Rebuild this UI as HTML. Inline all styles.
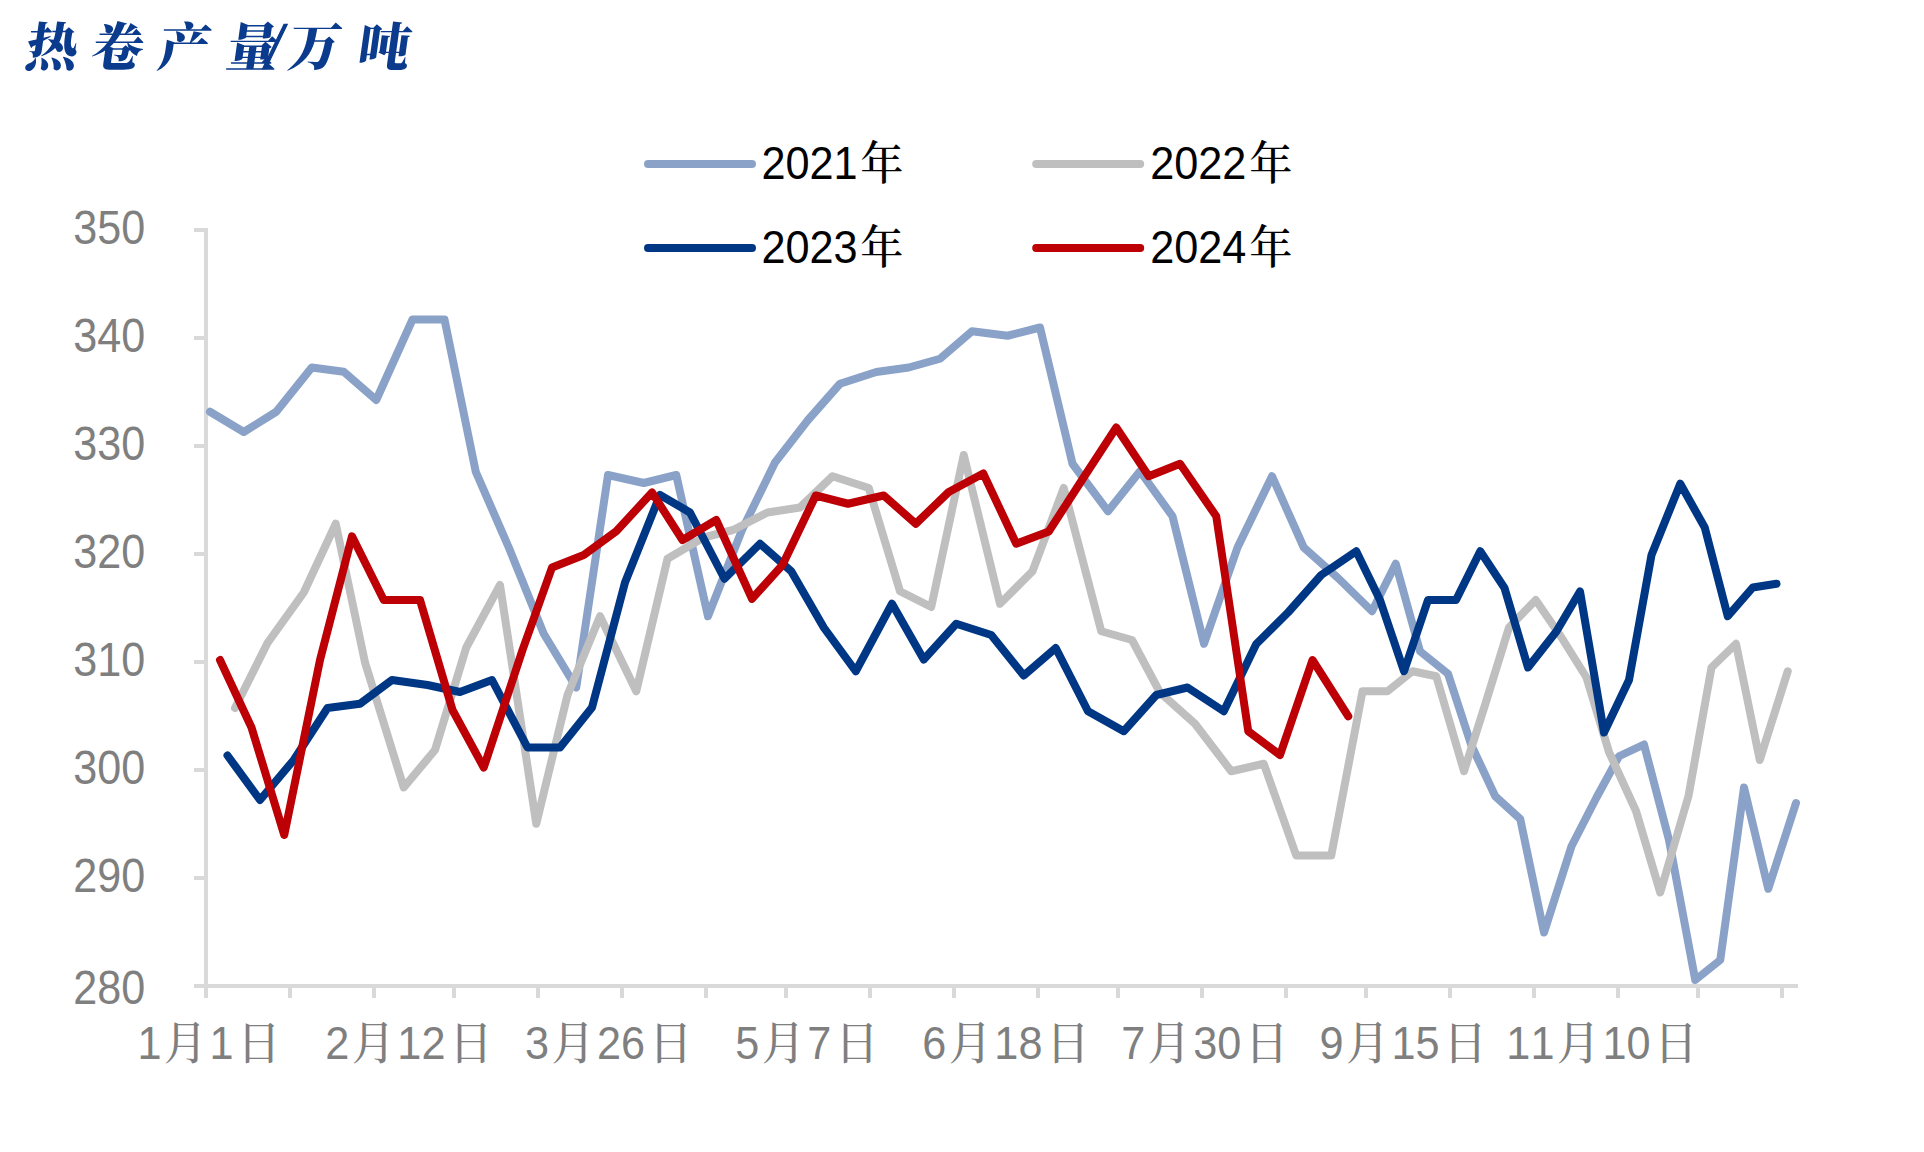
<!DOCTYPE html>
<html lang="zh"><head><meta charset="utf-8"><title>热卷产量/万吨</title>
<style>
html,body{margin:0;padding:0;background:#fff;}
body{width:1924px;height:1152px;overflow:hidden;position:relative;}
svg{position:absolute;left:0;top:0;display:block;}
.yl{font-family:"Liberation Sans",sans-serif;font-size:49px;fill:#7f7f7f;text-anchor:end;}
.xl{font-weight:500;font-family:"Liberation Sans","Noto Serif CJK SC",sans-serif;font-size:46.0px;fill:#7f7f7f;}
.lg{font-weight:500;font-family:"Liberation Sans","Noto Serif CJK SC",sans-serif;font-size:46.0px;fill:#000;}
.ti{font-family:"Liberation Serif","Noto Serif CJK SC",serif;font-weight:900;font-size:52px;fill:#0b3b8c;}
.sl{font-size:66px;font-weight:400;stroke:#0b3b8c;stroke-width:1.3px;}
.ln{fill:none;stroke-width:8;stroke-linejoin:round;stroke-linecap:round;}
</style></head><body>
<svg width="1924" height="1152" viewBox="0 0 1924 1152">
<rect width="1924" height="1152" fill="#fff"/>
<text class="ti" transform="translate(0,66) skewX(-8)" x="23.5 89.5 156.5 224.5 263 286.5 356" y="0 0 0 0 2 0 0">热卷产量<tspan class="sl">/</tspan>万吨</text>
<g stroke="#d9d9d9" stroke-width="4" fill="none">
<path d="M206,228V998"/>
<path d="M194,986H1798"/>
<path d="M194,230H206M194,338H206M194,446H206M194,554H206M194,662H206M194,770H206M194,878H206"/>
<path d="M290,986V998M374,986V998M454,986V998M538,986V998M622,986V998M706,986V998M786,986V998M870,986V998M954,986V998M1038,986V998M1118,986V998M1202,986V998M1286,986V998M1366,986V998M1450,986V998M1534,986V998M1618,986V998M1698,986V998M1782,986V998"/>
</g>
<text class="yl" transform="scale(0.88,1)" x="165.1" y="244">350</text>
<text class="yl" transform="scale(0.88,1)" x="165.1" y="352">340</text>
<text class="yl" transform="scale(0.88,1)" x="165.1" y="460">330</text>
<text class="yl" transform="scale(0.88,1)" x="165.1" y="568">320</text>
<text class="yl" transform="scale(0.88,1)" x="165.1" y="676">310</text>
<text class="yl" transform="scale(0.88,1)" x="165.1" y="784">300</text>
<text class="yl" transform="scale(0.88,1)" x="165.1" y="892">290</text>
<text class="yl" transform="scale(0.88,1)" x="165.1" y="1003.8">280</text>
<polyline class="ln" stroke="#8aa2c8" points="210,411.75 243.75,432 276.25,411.75 311.75,367.5 343.75,371.75 376.25,400 412.5,319.5 444.5,319.5 475.75,471.75 509,548 543.75,633.75 576.25,687.5 608,475 643.75,483 676.25,475 708,616.25 742,530 775,462.5 808,420 840,383.75 876.25,372 908.75,367.5 940,358.75 972,331.25 1007.5,335.75 1040,327.5 1072.5,463.75 1108,511.25 1140,471.25 1172.5,516.25 1204,643.75 1237.5,547.5 1272,476.25 1303.75,547.5 1338,578 1372,611.25 1395.75,563.75 1420,651.25 1448,673.75 1471.25,745 1495.25,796.25 1520.25,819 1544,932.5 1571.5,846.25 1596.5,797.5 1619,756.25 1644,744.5 1669,840 1695.25,980 1720.25,960 1744,787.5 1768.25,888.75 1796,803"/>
<polyline class="ln" stroke="#bfbfbf" points="235,708 267.5,643 303.75,592.5 335.75,523.75 365,662.5 403.75,787.5 435,750 466.25,647.5 500,585 536.25,823.75 567.5,695 600,616.25 636.25,691.25 667.5,558.75 703.5,537.5 733,530 767.5,512.5 800,507.5 832.5,476.25 868.75,488 900,591.25 931.25,607 963.75,455 1000,603.75 1032.5,571.25 1063.75,488 1101.25,631.25 1132,640 1160,692.5 1195,723.75 1231.25,771.25 1263.75,763.75 1296.25,855.5 1331.25,855.5 1362.5,691.25 1387.5,691.25 1412.5,671.25 1436.25,676.25 1464,771.25 1485,705 1509,627.5 1535.75,600 1561.5,637.5 1586.5,677.5 1609,752 1636,811 1660.25,892.5 1688.5,796 1711.5,667.5 1736,643.75 1759.75,760 1787.75,671.25"/>
<polyline class="ln" stroke="#003785" points="227.5,755.5 260,800 293.75,760 327.5,708 360,703.75 392,680 427.5,685 460,692 492,680 527.5,747.5 560,747.5 592,707.5 625,582.5 660,495 690,512.5 724.5,578.75 760,543.75 791.25,571.25 823.75,627.5 855.75,671.25 892,603.75 923.75,659.5 956.25,623.75 991.25,635 1023.75,675.5 1055.75,648 1088,711.25 1123.75,731.25 1156.25,695 1187.5,687.5 1223.75,711.25 1256.25,644 1288,612.5 1321.25,575 1356.25,551.25 1380,600 1404,671.25 1428,600 1456,600 1480.25,551.25 1504.5,588 1528,667.5 1556.5,631.25 1580,591.5 1604,732.5 1629,680 1651.5,555 1680.25,483.75 1704.75,527.5 1727.75,616.25 1752.75,587.5 1776.5,583.75"/>
<polyline class="ln" stroke="#bc0005" points="220,660 251.5,727.5 284.25,835 320,660 352,536.25 383.75,600 420,600 452.5,710 483.75,767.5 522.5,650 552,567.5 583.75,555 616.25,531.25 652,492.5 682.5,540 716.25,520 752,598.75 782.5,565 815.75,495.5 848,503.75 883.75,495.5 915.75,523.75 948.75,492 983.25,473.5 1016.25,543.75 1048.75,531.5 1082,480 1116.25,427.5 1148.75,476.25 1180,463.75 1216.25,516.25 1248.25,731.25 1280,755 1312.5,660 1348.25,716.25"/>
<text class="xl" transform="scale(0.94,1)" x="146.2 174.3 222.8 252.5" y="1059">1月1日</text>
<text class="xl" transform="scale(0.94,1)" x="346.1 374.2 422.7 448.3 478.0" y="1059">2月12日</text>
<text class="xl" transform="scale(0.94,1)" x="558.5 586.6 635.1 660.6 690.3" y="1059">3月26日</text>
<text class="xl" transform="scale(0.94,1)" x="782.2 810.3 858.8 888.5" y="1059">5月7日</text>
<text class="xl" transform="scale(0.94,1)" x="981.2 1009.3 1057.8 1083.4 1113.1" y="1059">6月18日</text>
<text class="xl" transform="scale(0.94,1)" x="1192.7 1220.8 1269.3 1294.9 1324.6" y="1059">7月30日</text>
<text class="xl" transform="scale(0.94,1)" x="1403.8 1431.9 1480.4 1505.9 1535.6" y="1059">9月15日</text>
<text class="xl" transform="scale(0.94,1)" x="1602.5 1628.1 1656.1 1704.7 1730.2 1759.9" y="1059">11月10日</text>
<path class="ln" stroke="#8aa2c8" d="M648,164H752"/>
<text class="lg" transform="scale(0.94,1)" x="810.1 835.6 861.1 886.7 915.3" y="179">2021年</text>
<path class="ln" stroke="#bfbfbf" d="M1036.2,164H1140.2"/>
<text class="lg" transform="scale(0.94,1)" x="1223.7 1249.2 1274.8 1300.3 1328.9" y="179">2022年</text>
<path class="ln" stroke="#003785" d="M648,248H752"/>
<text class="lg" transform="scale(0.94,1)" x="810.1 835.6 861.1 886.7 915.3" y="263.5">2023年</text>
<path class="ln" stroke="#bc0005" d="M1036.2,248H1140.2"/>
<text class="lg" transform="scale(0.94,1)" x="1223.7 1249.2 1274.8 1300.3 1328.9" y="263.5">2024年</text>
</svg>
</body></html>
